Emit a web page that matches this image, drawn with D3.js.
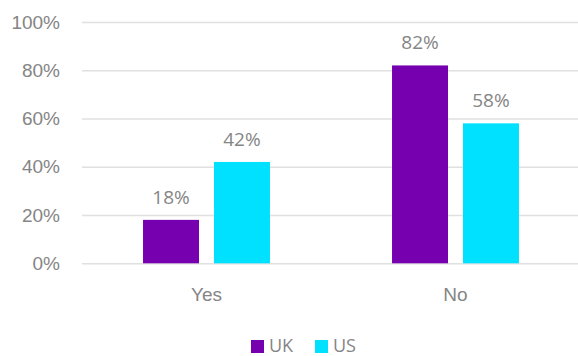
<!DOCTYPE html>
<html>
<head>
<meta charset="utf-8">
<script src="https://cdn.jsdelivr.net/npm/d3@7"></script>
<style>
  html, body { margin: 0; padding: 0; background: #fff; }
  svg { display: block; font-family: "Open Sans", "Noto Sans", sans-serif; }
</style>
</head>
<body>
<svg id="chart" width="578" height="356"></svg>
<script>
// Survey answers by country
const categories = ["Yes", "No"];
const seriesNames = ["UK", "US"];
const ukValues = [18, 82];
const usValues = [42, 58];
const yTicks = [0, 20, 40, 60, 80, 100];

const colors = { UK: "#7600B0", US: "#00E1FF" };
const textColor = "#858585";

const svg = d3.select("#chart");
const margin = { left: 82, right: -2, top: 22, bottom: 93 };
const width = 578, height = 356;

const x0 = d3.scaleBand()
  .domain(categories)
  .range([margin.left, width - margin.right])
  .paddingInner(0)
  .paddingOuter(0);

const x1 = d3.scaleBand()
  .domain(seriesNames)
  .range([0, x0.bandwidth()])
  .paddingInner(0.211)
  .paddingOuter(0.86);

const y = d3.scaleLinear()
  .domain([0, 100])
  .range([height - margin.bottom + 0.3, margin.top]);

// Gridlines and y tick labels
const yAxis = d3.axisLeft(y)
  .tickValues(yTicks)
  .tickSize(-(width - margin.left))
  .tickPadding(22)
  .tickFormat(d => d + "%");

const gAxis = svg.append("g")
  .attr("transform", `translate(${margin.left},0)`)
  .call(yAxis);
gAxis.select(".domain").remove();
gAxis.selectAll(".tick line")
  .attr("stroke", "#e0e0e0")
  .attr("stroke-width", 1.5);
gAxis.selectAll(".tick text")
  .attr("fill", textColor)
  .style("font-size", "19px");

// Category labels
const xAxis = d3.axisBottom(x0).tickSize(0).tickPadding(24);
const gx = svg.append("g")
  .attr("transform", `translate(0,${y(0)})`)
  .call(xAxis);
gx.select(".domain").remove();
gx.selectAll(".tick text")
  .attr("fill", textColor)
  .style("font-size", "19px");

// Bars
const rows = categories.map((c, i) => ({
  category: c,
  values: [
    { series: "UK", value: ukValues[i] },
    { series: "US", value: usValues[i] }
  ]
}));

const groups = svg.append("g").selectAll("g")
  .data(rows)
  .join("g")
  .attr("transform", d => `translate(${x0(d.category)},0)`);

groups.selectAll("rect")
  .data(d => d.values)
  .join("rect")
  .attr("x", d => x1(d.series))
  .attr("width", x1.bandwidth())
  .attr("y", d => y(d.value))
  .attr("height", d => y(0) - y(d.value))
  .attr("fill", d => colors[d.series]);

groups.selectAll("text.value")
  .data(d => d.values)
  .join("text")
  .attr("class", "value")
  .attr("x", d => x1(d.series) + x1.bandwidth() / 2)
  .attr("y", d => y(d.value) - 16)
  .attr("text-anchor", "middle")
  .attr("fill", textColor)
  .style("font-size", "19px")
  .text(d => d.value + "%");

// Legend
const legend = svg.append("g")
  .attr("transform", "translate(251,339)");
const legendX = { UK: 0, US: 64 };
seriesNames.forEach(s => {
  const g = legend.append("g").attr("transform", `translate(${legendX[s]},0)`);
  g.append("rect")
    .attr("y", 1)
    .attr("width", 13)
    .attr("height", 13)
    .attr("fill", colors[s]);
  g.append("text")
    .attr("x", 18)
    .attr("y", 13)
    .attr("fill", textColor)
    .style("font-size", "18px")
    .text(s);
});
</script>
</body>
</html>
